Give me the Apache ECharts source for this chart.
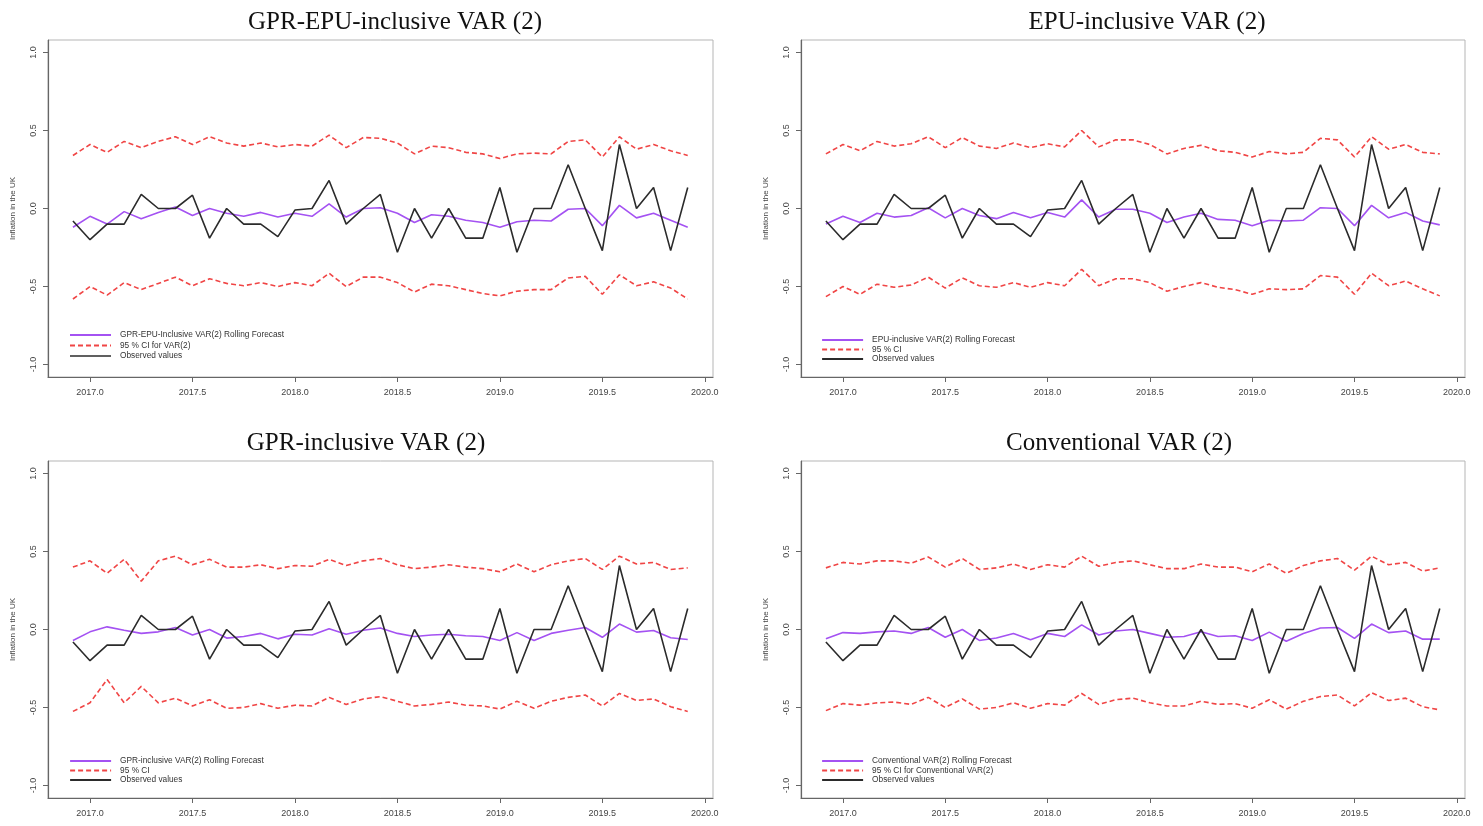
<!DOCTYPE html>
<html>
<head>
<meta charset="utf-8">
<script src="https://cdn.jsdelivr.net/npm/echarts@6/dist/echarts.min.js"></script>
<style>
  html, body { margin: 0; padding: 0; background: #fff; }
  #main { width: 1483px; height: 826px; }
</style>
</head>
<body>
<div id="main"></div>
<script>
// monthly points, Dec 2016 .. Dec 2019
var months = ['2016-12','2017-01','2017-02','2017-03','2017-04','2017-05','2017-06','2017-07','2017-08','2017-09','2017-10','2017-11','2017-12',
  '2018-01','2018-02','2018-03','2018-04','2018-05','2018-06','2018-07','2018-08','2018-09','2018-10','2018-11','2018-12',
  '2019-01','2019-02','2019-03','2019-04','2019-05','2019-06','2019-07','2019-08','2019-09','2019-10','2019-11','2019-12'];

var xTicks = [2017.0, 2017.5, 2018.0, 2018.5, 2019.0, 2019.5, 2020.0];
var yTicks = [-1.0, -0.5, 0.0, 0.5, 1.0];

var observed = [-0.08,-0.20,-0.10,-0.10,0.09,0.0,0.0,0.085,-0.19,0.0,-0.10,-0.10,-0.18,-0.01,0.0,0.18,-0.10,0.0,0.09,-0.28,0.0,-0.19,0.0,-0.19,-0.19,0.135,-0.28,0.0,0.0,0.28,0.0,-0.27,0.41,0.0,0.135,-0.27,0.135];

var gprEpuFc = [-0.12,-0.05,-0.10,-0.02,-0.065,-0.025,0.01,-0.045,0.0,-0.03,-0.05,-0.025,-0.055,-0.03,-0.05,0.03,-0.055,0.0,0.005,-0.03,-0.09,-0.04,-0.05,-0.075,-0.09,-0.12,-0.085,-0.075,-0.08,-0.005,0.0,-0.11,0.02,-0.06,-0.03,-0.075,-0.12];
var gprEpuUp = [0.34,0.41,0.36,0.43,0.39,0.43,0.46,0.41,0.46,0.42,0.40,0.42,0.395,0.41,0.40,0.47,0.39,0.455,0.45,0.42,0.35,0.40,0.39,0.36,0.35,0.32,0.35,0.355,0.35,0.43,0.44,0.33,0.46,0.38,0.41,0.37,0.34];
var gprEpuLo = [-0.58,-0.50,-0.555,-0.475,-0.52,-0.48,-0.44,-0.495,-0.45,-0.48,-0.495,-0.475,-0.50,-0.475,-0.495,-0.415,-0.50,-0.44,-0.44,-0.475,-0.535,-0.485,-0.495,-0.52,-0.545,-0.56,-0.53,-0.52,-0.52,-0.445,-0.435,-0.55,-0.425,-0.495,-0.47,-0.51,-0.58];

var epuFc = [-0.10,-0.05,-0.09,-0.03,-0.055,-0.045,0.005,-0.06,0.0,-0.045,-0.065,-0.025,-0.06,-0.025,-0.055,0.055,-0.055,-0.005,-0.005,-0.03,-0.09,-0.055,-0.03,-0.07,-0.075,-0.11,-0.075,-0.08,-0.075,0.005,0.0,-0.11,0.02,-0.06,-0.025,-0.08,-0.105];
var epuUp = [0.35,0.41,0.37,0.43,0.40,0.415,0.46,0.39,0.455,0.40,0.385,0.42,0.39,0.415,0.395,0.50,0.395,0.44,0.44,0.41,0.35,0.385,0.405,0.37,0.36,0.33,0.365,0.35,0.36,0.45,0.44,0.33,0.46,0.38,0.41,0.36,0.35];
var epuLo = [-0.565,-0.50,-0.55,-0.485,-0.505,-0.49,-0.44,-0.51,-0.445,-0.495,-0.505,-0.475,-0.505,-0.475,-0.495,-0.39,-0.495,-0.45,-0.45,-0.475,-0.53,-0.50,-0.475,-0.505,-0.52,-0.55,-0.515,-0.52,-0.515,-0.43,-0.44,-0.55,-0.415,-0.495,-0.465,-0.515,-0.56];

var gprFc = [-0.07,-0.015,0.017,-0.005,-0.025,-0.015,0.013,-0.035,0.0,-0.055,-0.045,-0.025,-0.06,-0.03,-0.035,0.005,-0.03,-0.005,0.01,-0.025,-0.045,-0.035,-0.03,-0.04,-0.045,-0.07,-0.02,-0.07,-0.025,-0.005,0.013,-0.05,0.035,-0.017,-0.006,-0.053,-0.064];
var gprUp = [0.40,0.44,0.36,0.45,0.31,0.44,0.47,0.415,0.45,0.40,0.40,0.415,0.39,0.41,0.405,0.45,0.41,0.44,0.455,0.415,0.39,0.40,0.415,0.40,0.39,0.37,0.42,0.37,0.415,0.44,0.455,0.385,0.47,0.42,0.43,0.385,0.395];
var gprLo = [-0.525,-0.47,-0.32,-0.47,-0.365,-0.47,-0.44,-0.49,-0.45,-0.505,-0.50,-0.475,-0.505,-0.485,-0.49,-0.435,-0.48,-0.445,-0.43,-0.46,-0.49,-0.48,-0.465,-0.485,-0.49,-0.51,-0.46,-0.505,-0.46,-0.435,-0.42,-0.49,-0.41,-0.455,-0.445,-0.495,-0.525];

var convFc = [-0.06,-0.02,-0.025,-0.015,-0.01,-0.025,0.013,-0.05,0.0,-0.07,-0.055,-0.025,-0.065,-0.025,-0.045,0.03,-0.035,-0.01,0.0,-0.025,-0.05,-0.045,-0.015,-0.045,-0.04,-0.07,-0.017,-0.075,-0.025,0.01,0.013,-0.057,0.035,-0.02,-0.01,-0.062,-0.062];
var convUp = [0.395,0.43,0.42,0.44,0.44,0.425,0.465,0.40,0.455,0.385,0.395,0.42,0.385,0.415,0.40,0.47,0.405,0.43,0.44,0.415,0.39,0.39,0.42,0.40,0.40,0.37,0.42,0.36,0.41,0.44,0.455,0.38,0.47,0.415,0.43,0.375,0.395];
var convLo = [-0.52,-0.475,-0.485,-0.47,-0.465,-0.48,-0.435,-0.50,-0.445,-0.51,-0.50,-0.47,-0.505,-0.475,-0.485,-0.41,-0.48,-0.45,-0.44,-0.47,-0.49,-0.49,-0.46,-0.48,-0.475,-0.505,-0.45,-0.51,-0.46,-0.43,-0.42,-0.49,-0.405,-0.455,-0.44,-0.495,-0.515];

var panels = [
  { title: 'GPR-EPU-inclusive VAR (2)', fc: gprEpuFc, up: gprEpuUp, lo: gprEpuLo,
    fcName: 'GPR-EPU-Inclusive VAR(2) Rolling Forecast', ciName: '95 % CI for VAR(2)' },
  { title: 'EPU-inclusive VAR (2)', fc: epuFc, up: epuUp, lo: epuLo,
    fcName: 'EPU-inclusive VAR(2) Rolling Forecast', ciName: '95 % CI' },
  { title: 'GPR-inclusive VAR (2)', fc: gprFc, up: gprUp, lo: gprLo,
    fcName: 'GPR-inclusive VAR(2) Rolling Forecast', ciName: '95 % CI' },
  { title: 'Conventional VAR (2)', fc: convFc, up: convUp, lo: convLo,
    fcName: 'Conventional VAR(2) Rolling Forecast', ciName: '95 % CI for Conventional VAR(2)' }
];

// layout (pixels)
var boxes = [
  { left: 48, top: 40, width: 665, height: 337, titleX: 390, titleY: 5, legLeft: 69, legTop: 331, legGap: 2.5, obsW: 1.3 },
  { left: 801, top: 40, width: 664, height: 337, titleX: 1142, titleY: 5, legLeft: 821, legTop: 336, legGap: 1.5, obsW: 2.2 },
  { left: 48, top: 461, width: 665, height: 337, titleX: 361, titleY: 426, legLeft: 69, legTop: 757, legGap: 1.5, obsW: 2.2 },
  { left: 801, top: 461, width: 664, height: 337, titleX: 1114, titleY: 426, legLeft: 821, legTop: 757, legGap: 1.5, obsW: 2.2 }
];

var PURPLE = '#a452f2', RED = '#f04545', BLACK = '#2b2b2b';

function toYear(m) {
  var p = m.split('-');
  return +p[0] + (+p[1] - 1) / 12;
}
function pairs(vals) {
  return vals.map(function (v, i) { return [toYear(months[i]), v]; });
}

var option = {
  backgroundColor: '#fff',
  animation: false,
  title: [], grid: [], xAxis: [], yAxis: [], legend: [], series: []
};

panels.forEach(function (p, k) {
  var b = boxes[k];
  option.title.push({
    text: p.title, left: b.titleX, top: b.titleY, textAlign: 'center',
    textStyle: { fontFamily: 'Liberation Serif', fontSize: 25, fontWeight: 'normal', color: '#111' }
  });
  option.grid.push({
    left: b.left, top: b.top, width: b.width, height: b.height,
    show: true, borderColor: '#b5b5b5', borderWidth: 1
  });
  option.xAxis.push({
    type: 'value', gridIndex: k, min: 2016.795, max: 2020.04,
    axisLine: { show: true, onZero: false, lineStyle: { color: '#666', width: 1.2 } },
    axisTick: { show: true, customValues: xTicks, length: 5, lineStyle: { color: '#666' } },
    axisLabel: { customValues: xTicks, margin: 11, fontSize: 9, color: '#444', fontFamily: 'Liberation Sans',
      formatter: function (v) { return v.toFixed(1); } },
    splitLine: { show: false }
  });
  option.yAxis.push({
    type: 'value', gridIndex: k, min: -1.08, max: 1.08,
    name: 'Inflation in the UK', nameLocation: 'middle', nameGap: 31,
    nameTextStyle: { fontSize: 8, color: '#444', fontFamily: 'Liberation Sans' },
    axisLine: { show: true, onZero: false, lineStyle: { color: '#666', width: 1.2 } },
    axisTick: { show: true, customValues: yTicks, length: 5, lineStyle: { color: '#666' } },
    axisLabel: { customValues: yTicks, rotate: 90, margin: 10, fontSize: 9, color: '#444', fontFamily: 'Liberation Sans',
      formatter: function (v) { return v.toFixed(1); } },
    splitLine: { show: false }
  });
  option.legend.push({
    orient: 'vertical', left: b.legLeft, top: b.legTop, itemWidth: 41, itemHeight: 10, itemGap: b.legGap,
    padding: 0,
    itemStyle: { opacity: 0 },
    textStyle: { fontSize: 8.3, color: '#333', fontFamily: 'Liberation Sans', padding: [0, 0, 0, 4] },
    data: [
      { name: p.fcName, lineStyle: { color: PURPLE, width: 2 } },
      { name: p.ciName },
      { name: 'Observed values', lineStyle: { color: BLACK, width: b.obsW } }
    ]
  });
  var base = { type: 'line', xAxisIndex: k, yAxisIndex: k, showSymbol: false, symbol: 'none' };
  option.series.push(Object.assign({}, base, {
    name: p.ciName, data: pairs(p.up), color: RED,
    lineStyle: { color: RED, width: 1.6, type: [5, 3] }
  }));
  option.series.push(Object.assign({}, base, {
    name: p.ciName, data: pairs(p.lo), color: RED,
    lineStyle: { color: RED, width: 1.6, type: [5, 3] }
  }));
  option.series.push(Object.assign({}, base, {
    name: p.fcName, data: pairs(p.fc), color: PURPLE,
    lineStyle: { color: PURPLE, width: 1.6 }
  }));
  option.series.push(Object.assign({}, base, {
    name: 'Observed values', data: pairs(observed), color: BLACK,
    lineStyle: { color: BLACK, width: 1.6 }
  }));
});

var chart = echarts.init(document.getElementById('main'));
chart.setOption(option);
</script>
</body>
</html>
